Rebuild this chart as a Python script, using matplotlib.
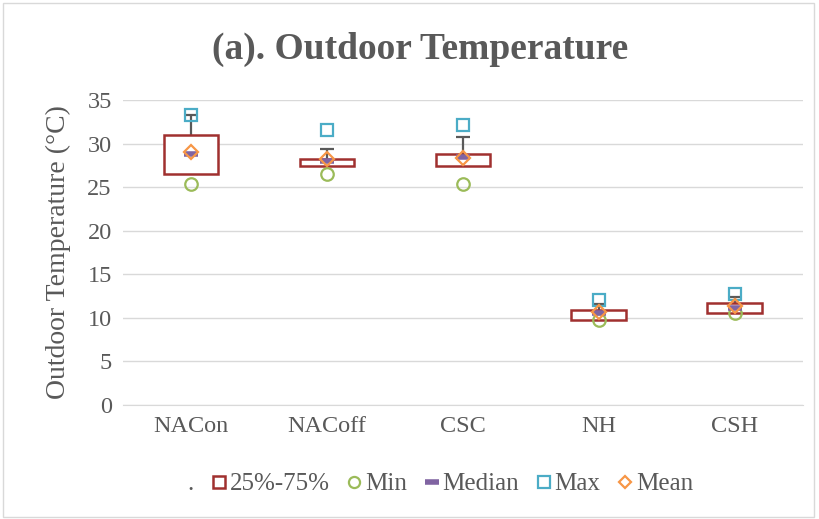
import numpy as np
import matplotlib
matplotlib.use('Agg')
from matplotlib import pyplot as plt
from matplotlib.lines import Line2D

# data
groups = ['NACon', 'NACoff', 'CSC', 'NH', 'CSH']
q1 = [26.5, 27.4, 27.4, 9.8, 10.6]
q3 = [31.0, 28.2, 28.8, 10.9, 11.7]
whisker_top = [33.3, 29.4, 30.7, 11.6, 12.4]
t_min = [25.4, 26.5, 25.4, 9.7, 10.6]
t_median = [28.8, 28.0, 28.4, 10.6, 11.1]
t_max = [33.3, 31.6, 32.1, 12.0, 12.7]
t_mean = [29.0, 28.2, 28.3, 10.7, 11.3]

plt.rcParams['font.family'] = ['Liberation Serif', 'DejaVu Serif']
grey = '#595959'

fig = plt.figure(figsize=(8.19, 5.19), dpi=100)
ax = fig.add_axes([0.150, 0.2197, 0.830, 0.5877])

x = np.arange(len(groups))
low = np.array(q1)
high = np.array(q3)

ax.vlines(x, high, whisker_top, color=grey, lw=1.6, zorder=2)
ax.hlines(whisker_top, x - 0.05, x + 0.05, color=grey, lw=1.6, zorder=2)
ax.bar(x, high - low, bottom=low, width=0.4, facecolor='white',
       edgecolor='#A0302F', lw=1.8, zorder=3)
ax.plot(x, t_min, 'o', ms=9, mfc='none', mec='#9BBB59', mew=1.6, zorder=4)
ax.plot(x, t_median, '_', ms=10, mec='#8064A2', mew=4, zorder=4)
ax.plot(x, t_max, 's', ms=9, mfc='none', mec='#4BACC6', mew=1.6, zorder=4)
ax.plot(x, t_mean, 'D', ms=7, mfc='none', mec='#F79646', mew=1.6, zorder=5)

ax.set_xlim(-0.5, 4.5)
ax.set_ylim(0, 35)
ax.set_yticks(np.arange(0, 36, 5))
ax.set_xticks(x)
ax.set_xticklabels(groups)
ax.yaxis.grid(True, color='#d9d9d9', lw=1)
ax.set_axisbelow(True)
for s in ['top', 'right', 'left']:
    ax.spines[s].set_visible(False)
ax.spines['bottom'].set_color('#d9d9d9')
ax.tick_params(length=0, labelsize=17.5, colors=grey, pad=8)
ax.set_ylabel('Outdoor Temperature (°C)', fontsize=20, color=grey, labelpad=12)

fig.text(0.513, 0.905, '(a). Outdoor Temperature', ha='center', va='center',
         fontsize=27, fontweight='bold', color=grey)

handles = [
    Line2D([], [], ls='none', marker=''),
    Line2D([], [], ls='none', marker='s', ms=9, mfc='white', mec='#A0302F', mew=1.8),
    Line2D([], [], ls='none', marker='o', ms=8, mfc='none', mec='#9BBB59', mew=1.6),
    Line2D([], [], ls='none', marker='_', ms=10, mec='#8064A2', mew=4),
    Line2D([], [], ls='none', marker='s', ms=8, mfc='none', mec='#4BACC6', mew=1.6),
    Line2D([], [], ls='none', marker='D', ms=6, mfc='none', mec='#F79646', mew=1.6),
]
labels = ['.', '25%-75%', 'Min', 'Median', 'Max', 'Mean']
leg = fig.legend(handles, labels, loc='center', bbox_to_anchor=(0.527, 0.067), ncol=6,
                 frameon=False, fontsize=18, handlelength=0.55, handletextpad=0.15,
                 columnspacing=0.72, labelcolor=grey)

fig.patches.append(plt.Rectangle((0.004, 0.004), 0.99, 0.99, transform=fig.transFigure,
                                 fill=False, ec='#d9d9d9', lw=1))

fig.savefig('out.png', dpi=100)
